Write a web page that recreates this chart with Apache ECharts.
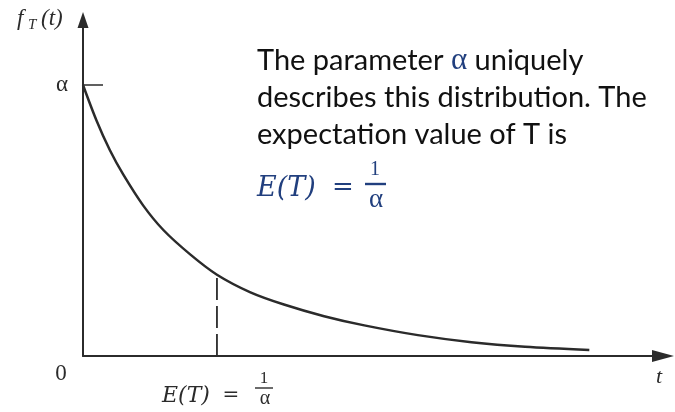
<!DOCTYPE html>
<html>
<head>
<meta charset="utf-8">
<script src="https://cdn.jsdelivr.net/npm/echarts@6/dist/echarts.min.js"></script>
<style>
  html, body { margin: 0; padding: 0; background: #ffffff; }
  #chart { width: 675px; height: 412px; }
</style>
</head>
<body>
<div id="chart"></div>
<script>
// Exponential density f_T(t), t in units of 1/alpha, f in units of alpha
const tValues       = [0, 0.1, 0.2, 0.3, 0.45, 0.6, 0.8, 1.0, 1.25, 1.5, 1.8, 2.1, 2.5, 2.9, 3.3, 3.78];
const densityValues = [1.0, 0.87, 0.76, 0.67, 0.555, 0.465, 0.375, 0.30, 0.235, 0.19, 0.147, 0.113, 0.077, 0.051, 0.034, 0.022];

// Mean of T (1/alpha) and the density there
const meanT = 1.0;
const densityAtMean = 0.30;

// Tick on the vertical axis: the density at t = 0 equals alpha
const yTickValues = [1];
const yTickLabels = ['α'];

const INK = '#2b2b2b';
const BLUE = '#213f7e';
const SERIF = '"Liberation Serif", "DejaVu Serif", serif';
const MATH = '"DejaVu Serif", "Liberation Serif", serif';
const SANS = 'Lato, "Open Sans", "Noto Sans", sans-serif';

const curve = tValues.map((t, i) => [t, densityValues[i]]);
const meanLine = [[meanT, 0], [meanT, densityAtMean]];

const chart = echarts.init(document.getElementById('chart'), null, { renderer: 'canvas' });

chart.setOption({
  animation: false,
  backgroundColor: '#ffffff',
  grid: { left: 83, right: 12, top: 20, bottom: 56, containLabel: false },
  xAxis: {
    type: 'value',
    min: 0,
    max: 4.33,
    axisLine: {
      show: true,
      onZero: false,
      symbol: ['none', 'triangle'],
      symbolSize: [12, 22],
      lineStyle: { color: INK, width: 2 }
    },
    axisTick: { show: false },
    axisLabel: { show: false },
    splitLine: { show: false }
  },
  yAxis: {
    type: 'value',
    min: 0,
    max: 1.24,
    axisLine: {
      show: true,
      onZero: false,
      symbol: ['none', 'triangle'],
      symbolSize: [11, 16],
      lineStyle: { color: INK, width: 2 }
    },
    axisTick: {
      show: true,
      inside: true,
      length: 20,
      customValues: yTickValues,
      lineStyle: { color: INK, width: 1.5 }
    },
    axisLabel: {
      show: true,
      margin: 15,
      customValues: yTickValues,
      fontFamily: SERIF,
      fontSize: 23,
      color: INK,
      formatter: function (v) {
        const k = yTickValues.indexOf(v);
        return k >= 0 ? yTickLabels[k] : '';
      }
    },
    splitLine: { show: false }
  },
  series: [
    {
      type: 'line',
      data: curve,
      smooth: 0.3,
      showSymbol: false,
      lineStyle: { color: INK, width: 2.5 },
      z: 3
    },
    {
      type: 'line',
      data: meanLine,
      showSymbol: false,
      lineStyle: { color: INK, width: 1.8, type: [22, 6] },
      z: 2
    }
  ],
  graphic: [
    // vertical axis title f_T(t)
    { type: 'text', style: { text: 'f', x: 17, y: 19, fontFamily: SERIF, fontStyle: 'italic', fontSize: 23, fill: INK, verticalAlign: 'middle' } },
    { type: 'text', style: { text: 'T', x: 28, y: 25, fontFamily: SERIF, fontStyle: 'italic', fontSize: 15, fill: INK, verticalAlign: 'middle' } },
    { type: 'text', style: { text: '(t)', x: 41, y: 19, fontFamily: SERIF, fontStyle: 'italic', fontSize: 23, fill: INK, verticalAlign: 'middle' } },
    // origin and horizontal axis title
    { type: 'text', style: { text: '0', x: 61, y: 374, fontFamily: SERIF, fontSize: 23, fill: INK, align: 'center', verticalAlign: 'middle' } },
    { type: 'text', style: { text: 't', x: 659, y: 377, fontFamily: SERIF, fontStyle: 'italic', fontSize: 22, fill: INK, align: 'center', verticalAlign: 'middle' } },
    // E(T) = 1/alpha under the dashed line
    { type: 'text', style: { text: 'E(T)', x: 162, y: 396, fontFamily: MATH, fontStyle: 'italic', fontSize: 22, fill: INK, verticalAlign: 'middle' } },
    { type: 'text', style: { text: '=', x: 231, y: 396, fontFamily: MATH, fontSize: 20, fill: INK, align: 'center', verticalAlign: 'middle' } },
    { type: 'text', style: { text: '1', x: 264, y: 379, fontFamily: SERIF, fontSize: 17, fill: INK, align: 'center', verticalAlign: 'middle' } },
    { type: 'line', shape: { x1: 255, y1: 388, x2: 273, y2: 388 }, style: { stroke: INK, lineWidth: 1.4 } },
    { type: 'text', style: { text: 'α', x: 265, y: 399, fontFamily: SERIF, fontSize: 20, fill: INK, align: 'center', verticalAlign: 'middle' } },
    // explanatory note
    { type: 'text', style: {
        text: 'The parameter {a|α} uniquely', x: 257, y: 61,
        fontFamily: SANS, fontSize: 29, fill: '#111111', verticalAlign: 'middle',
        rich: { a: { fontFamily: SERIF, fontSize: 31, fill: BLUE } }
    } },
    { type: 'text', style: { text: 'describes this distribution. The', x: 257, y: 98, fontFamily: SANS, fontSize: 29, fill: '#111111', verticalAlign: 'middle' } },
    { type: 'text', style: { text: 'expectation value of T is', x: 257, y: 135, fontFamily: SANS, fontSize: 29, fill: '#111111', verticalAlign: 'middle' } },
    { type: 'text', style: { text: 'E(T)', x: 257, y: 189, fontFamily: MATH, fontStyle: 'italic', fontSize: 27, fill: BLUE, verticalAlign: 'middle' } },
    { type: 'text', style: { text: '=', x: 343, y: 188, fontFamily: MATH, fontSize: 26, fill: BLUE, align: 'center', verticalAlign: 'middle' } },
    { type: 'text', style: { text: '1', x: 375, y: 170, fontFamily: SERIF, fontSize: 20, fill: BLUE, align: 'center', verticalAlign: 'middle' } },
    { type: 'line', shape: { x1: 365, y1: 184, x2: 386, y2: 184 }, style: { stroke: BLUE, lineWidth: 2.4 } },
    { type: 'text', style: { text: 'α', x: 376, y: 200, fontFamily: SERIF, fontSize: 27, fill: BLUE, align: 'center', verticalAlign: 'middle' } }
  ]
});
</script>
</body>
</html>
